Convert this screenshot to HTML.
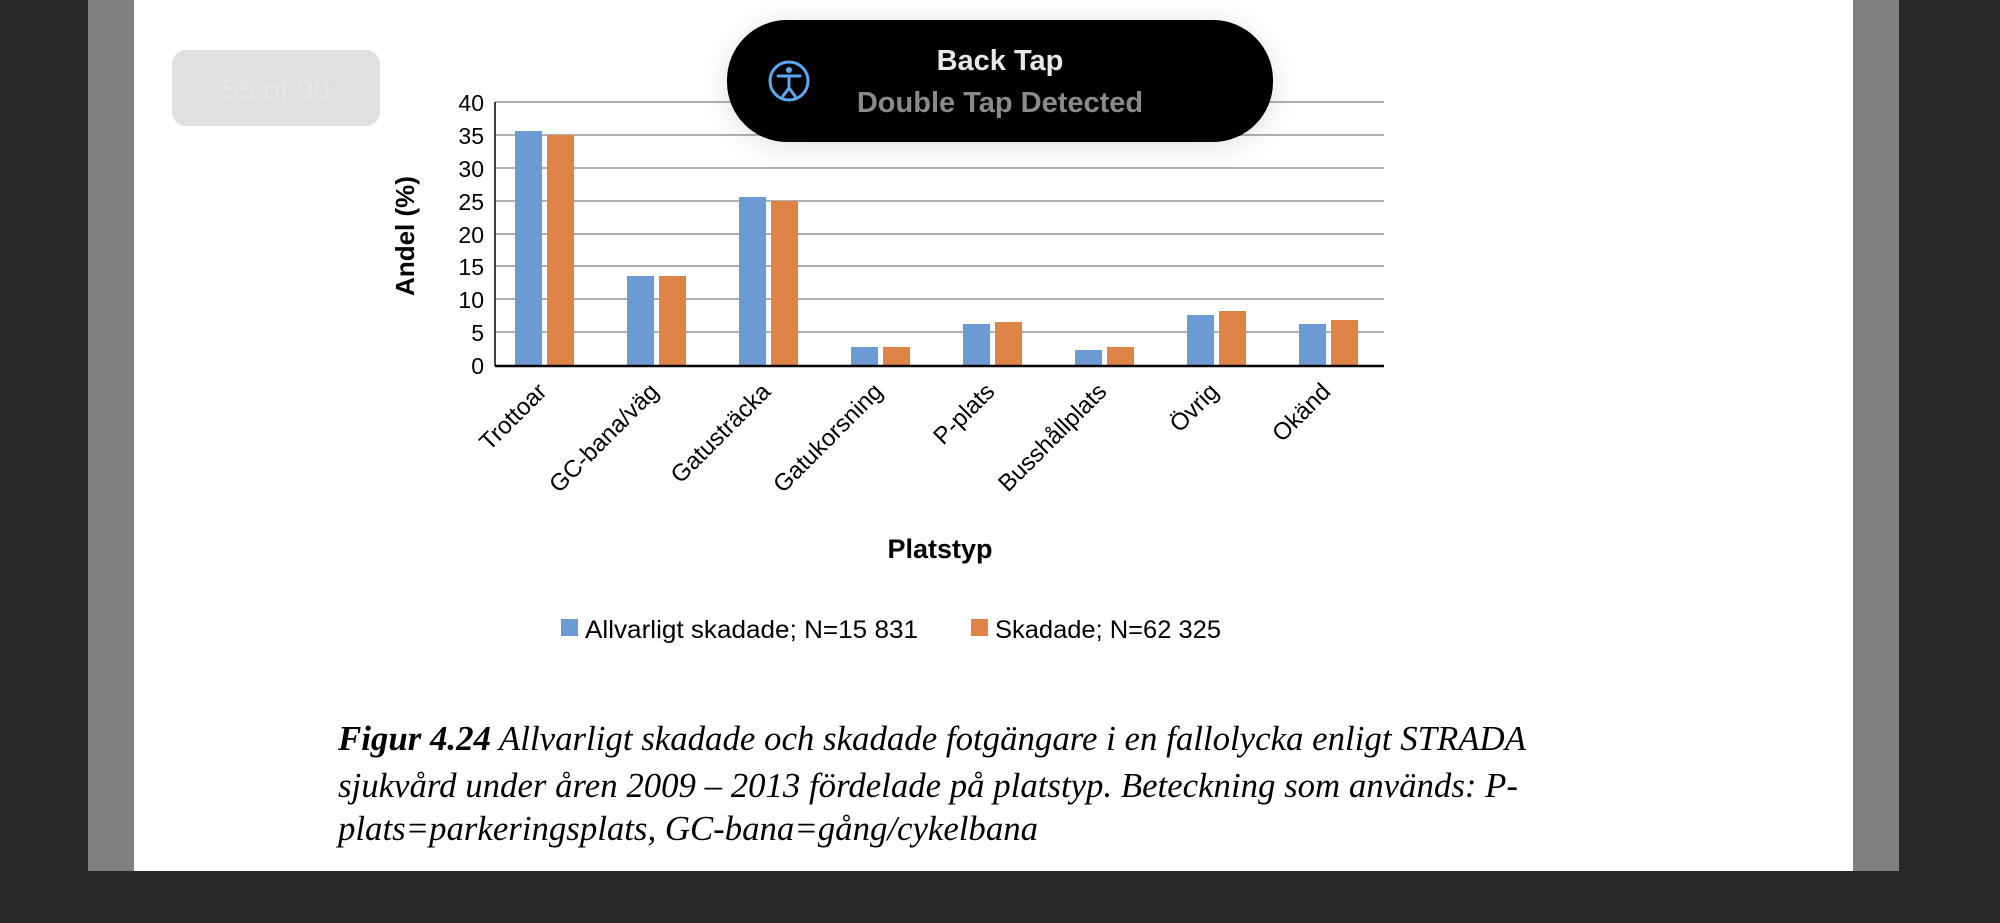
<!DOCTYPE html>
<html><head><meta charset="utf-8"><style>
html,body{margin:0;padding:0;width:2000px;height:923px;overflow:hidden;background:#282828}
</style></head><body>
<svg width="2000" height="923" viewBox="0 0 2000 923" xmlns="http://www.w3.org/2000/svg" font-family="Liberation Sans, sans-serif">
<rect x="0" y="0" width="2000" height="923" fill="#282828"/>
<rect x="88" y="0" width="46" height="871" fill="#808080"/>
<rect x="1853" y="0" width="46" height="871" fill="#808080"/>
<rect x="134" y="0" width="1719" height="871" fill="#ffffff"/>
<rect x="172" y="50" width="208" height="76" rx="14" fill="#e0e0e0"/>
<text x="276" y="100" font-size="30" fill="#e6e6e6" text-anchor="middle">55 of 90</text>
<g stroke="#b0b0b0" stroke-width="2">
<line x1="495" x2="1384" y1="102" y2="102"/>
<line x1="495" x2="1384" y1="135" y2="135"/>
<line x1="495" x2="1384" y1="168" y2="168"/>
<line x1="495" x2="1384" y1="201" y2="201"/>
<line x1="495" x2="1384" y1="234" y2="234"/>
<line x1="495" x2="1384" y1="266" y2="266"/>
<line x1="495" x2="1384" y1="299" y2="299"/>
<line x1="495" x2="1384" y1="332" y2="332"/>
</g>
<g font-size="23" fill="#000" text-anchor="end">
<text x="484" y="374">0</text><text x="484" y="341">5</text><text x="484" y="308">10</text><text x="484" y="275">15</text><text x="484" y="243">20</text><text x="484" y="210">25</text><text x="484" y="177">30</text><text x="484" y="144">35</text><text x="484" y="111">40</text>
</g>
<g fill="#6a9bd2">
<rect x="515" y="131" width="27" height="234"/>
<rect x="627" y="276" width="27" height="89"/>
<rect x="739" y="197" width="27" height="168"/>
<rect x="851" y="347" width="27" height="18"/>
<rect x="963" y="324" width="27" height="41"/>
<rect x="1075" y="350" width="27" height="15"/>
<rect x="1187" y="315" width="27" height="50"/>
<rect x="1299" y="324" width="27" height="41"/>
</g>
<g fill="#de8447">
<rect x="547" y="135" width="27" height="230"/>
<rect x="659" y="276" width="27" height="89"/>
<rect x="771" y="201" width="27" height="164"/>
<rect x="883" y="347" width="27" height="18"/>
<rect x="995" y="322" width="27" height="43"/>
<rect x="1107" y="347" width="27" height="18"/>
<rect x="1219" y="311" width="27" height="54"/>
<rect x="1331" y="320" width="27" height="45"/>
</g>
<line x1="495" x2="1384" y1="366" y2="366" stroke="#000" stroke-width="2.5"/>
<line x1="495" x2="495" y1="102" y2="366" stroke="#000" stroke-width="1.5"/>
<text transform="translate(414,236) rotate(-90)" font-size="26" font-weight="bold" text-anchor="middle">Andel (%)</text>
<g font-size="24" text-anchor="end">
<text transform="translate(548,393) rotate(-45)">Trottoar</text>
<text transform="translate(660,393) rotate(-45)">GC-bana/väg</text>
<text transform="translate(772,393) rotate(-45)">Gatusträcka</text>
<text transform="translate(884,393) rotate(-45)">Gatukorsning</text>
<text transform="translate(996,393) rotate(-45)">P-plats</text>
<text transform="translate(1108,393) rotate(-45)">Busshållplats</text>
<text transform="translate(1220,393) rotate(-45)">Övrig</text>
<text transform="translate(1332,393) rotate(-45)">Okänd</text>
</g>
<text x="940" y="558" font-size="27" font-weight="bold" text-anchor="middle">Platstyp</text>
<rect x="561" y="619" width="17" height="17" fill="#6a9bd2"/>
<text x="585" y="638" font-size="25" textLength="333" lengthAdjust="spacingAndGlyphs">Allvarligt skadade; N=15 831</text>
<rect x="971" y="619" width="17" height="17" fill="#de8447"/>
<text x="995" y="638" font-size="25" textLength="226" lengthAdjust="spacingAndGlyphs">Skadade; N=62 325</text>
<g font-family="Liberation Serif, serif" font-style="italic" font-size="35" fill="#000">
<text x="338" y="750" textLength="1188" lengthAdjust="spacingAndGlyphs"><tspan font-weight="bold">Figur 4.24</tspan> Allvarligt skadade och skadade fotgängare i en fallolycka enligt STRADA</text>
<text x="338" y="797" textLength="1180" lengthAdjust="spacingAndGlyphs">sjukvård under åren 2009 – 2013 fördelade på platstyp. Beteckning som används: P-</text>
<text x="338" y="840" textLength="700" lengthAdjust="spacingAndGlyphs">plats=parkeringsplats, GC-bana=gång/cykelbana</text>
</g>
<defs><filter id="sh" x="-20%" y="-50%" width="140%" height="200%"><feGaussianBlur stdDeviation="14"/></filter></defs>
<rect x="727" y="24" width="546" height="122" rx="60" fill="#000" opacity="0.12" filter="url(#sh)"/>
<rect x="727" y="20" width="546" height="122" rx="60" fill="#000"/>
<circle cx="789" cy="81" r="19" fill="none" stroke="#5aa8f0" stroke-width="3"/>
<circle cx="789" cy="70" r="3" fill="#5aa8f0"/>
<path d="M778 76 L800 76 M789 76 L789 88 M789 88 L783 96 M789 88 L795 96" stroke="#5aa8f0" stroke-width="3" fill="none" stroke-linecap="round"/>
<text x="1000" y="70" font-size="29" font-weight="bold" fill="#e8e8e8" text-anchor="middle">Back Tap</text>
<text x="1000" y="112" font-size="29" font-weight="bold" fill="#8a8a8a" text-anchor="middle">Double Tap Detected</text>
</svg>
</body></html>
